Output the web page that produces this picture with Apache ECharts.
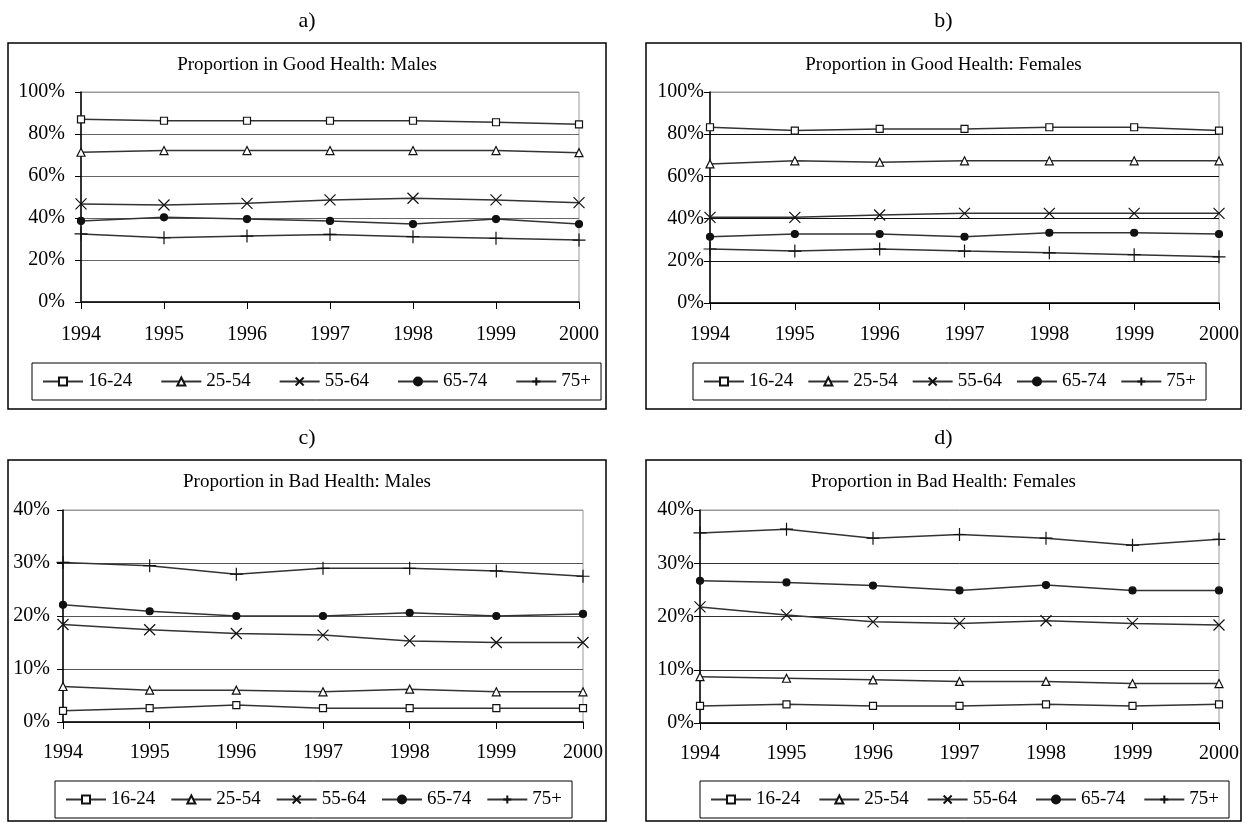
<!DOCTYPE html>
<html>
<head>
<meta charset="utf-8">
<script src="https://cdn.jsdelivr.net/npm/echarts@6/dist/echarts.min.js"></script>
<style>
  html, body { margin: 0; padding: 0; background: #fff; }
  #chart { width: 1246px; height: 823px; }
</style>
</head>
<body>
<div id="chart"></div>
<script>
// Survey years and age bands
const years = ['1994', '1995', '1996', '1997', '1998', '1999', '2000'];
const ageGroups = ['16-24', '25-54', '55-64', '65-74', '75+'];

// a) Proportion in good health, males (%)
const goodMale1624 = [87.0, 86.3, 86.3, 86.3, 86.3, 85.6, 84.6];
const goodMale2554 = [71.3, 72.1, 72.1, 72.1, 72.1, 72.1, 71.1];
const goodMale5564 = [46.7, 46.2, 47.0, 48.6, 49.4, 48.6, 47.3];
const goodMale6574 = [38.6, 40.3, 39.5, 38.6, 37.1, 39.5, 37.1];
const goodMale75 = [32.4, 30.6, 31.4, 32.2, 31.1, 30.3, 29.5];

// b) Proportion in good health, females (%)
const goodFemale1624 = [83.3, 81.7, 82.5, 82.5, 83.3, 83.3, 81.7];
const goodFemale2554 = [65.9, 67.4, 66.7, 67.4, 67.4, 67.4, 67.4];
const goodFemale5564 = [40.6, 40.6, 41.7, 42.5, 42.5, 42.5, 42.5];
const goodFemale6574 = [31.4, 32.7, 32.7, 31.4, 33.3, 33.3, 32.7];
const goodFemale75 = [25.6, 24.6, 25.6, 24.6, 23.8, 22.9, 21.9];

// c) Proportion in bad health, males (%)
const badMale1624 = [2.1, 2.6, 3.2, 2.6, 2.6, 2.6, 2.6];
const badMale2554 = [6.7, 6.0, 6.0, 5.7, 6.2, 5.7, 5.7];
const badMale5564 = [18.4, 17.4, 16.7, 16.4, 15.3, 15.0, 15.0];
const badMale6574 = [22.1, 20.9, 20.0, 20.0, 20.6, 20.0, 20.4];
const badMale75 = [30.1, 29.5, 27.9, 29.0, 29.0, 28.5, 27.5];

// d) Proportion in bad health, females (%)
const badFemale1624 = [3.2, 3.5, 3.2, 3.2, 3.5, 3.2, 3.5];
const badFemale2554 = [8.7, 8.4, 8.1, 7.8, 7.8, 7.4, 7.4];
const badFemale5564 = [21.8, 20.3, 19.0, 18.7, 19.2, 18.7, 18.4];
const badFemale6574 = [26.7, 26.4, 25.8, 24.9, 25.9, 24.9, 24.9];
const badFemale75 = [35.7, 36.4, 34.7, 35.4, 34.7, 33.4, 34.5];

const FONT = '"Liberation Serif", "DejaVu Serif", serif';
const LINE_COLOR = '#333';
const MARK_COLOR = '#111';

// One marker style per age band
const markerStyles = [
  { symbol: 'rect', size: 7, fill: '#fff' },
  { symbol: 'triangle', size: 8, fill: '#fff' },
  { symbol: 'path://M0 0L10 10M10 0L0 10', size: 11, fill: MARK_COLOR },
  { symbol: 'circle', size: 7, fill: MARK_COLOR },
  { symbol: 'path://M5 0L5 10M0 5L10 5', size: 13, fill: MARK_COLOR }
];

// Panel layout: plot rectangle, frame, axis range and decorations
const panels = [
  { tag: 'a)', title: 'Proportion in Good Health: Males',
    series: [goodMale1624, goodMale2554, goodMale5564, goodMale6574, goodMale75],
    plot: { left: 81, top: 92, right: 579, bottom: 302 },
    frame: { x: 8, y: 43, w: 598, h: 366 },
    yMax: 100, yStep: 20, yMargin: 16, xMargin: 23, gridColor: '#666',
    legend: { left: 32, top: 363, gap: 28 } },
  { tag: 'b)', title: 'Proportion in Good Health: Females',
    series: [goodFemale1624, goodFemale2554, goodFemale5564, goodFemale6574, goodFemale75],
    plot: { left: 710, top: 92, right: 1219, bottom: 303 },
    frame: { x: 646, y: 43, w: 595, h: 366 },
    yMax: 100, yStep: 20, yMargin: 6, xMargin: 22, gridColor: '#111',
    legend: { left: 693, top: 363, gap: 14 } },
  { tag: 'c)', title: 'Proportion in Bad Health: Males',
    series: [badMale1624, badMale2554, badMale5564, badMale6574, badMale75],
    plot: { left: 63, top: 510, right: 583, bottom: 722 },
    frame: { x: 8, y: 460, w: 598, h: 361 },
    yMax: 40, yStep: 10, yMargin: 13, xMargin: 21, gridColor: '#555',
    legend: { left: 55, top: 781, gap: 15 } },
  { tag: 'd)', title: 'Proportion in Bad Health: Females',
    series: [badFemale1624, badFemale2554, badFemale5564, badFemale6574, badFemale75],
    plot: { left: 700, top: 510, right: 1219, bottom: 723 },
    frame: { x: 646, y: 460, w: 595, h: 361 },
    yMax: 40, yStep: 10, yMargin: 6, xMargin: 21, gridColor: '#333',
    legend: { left: 700, top: 781, gap: 18 } }
];

const W = 1246, H = 823;
const grid = [], xAxis = [], yAxis = [], series = [], legend = [], graphics = [];

panels.forEach((p, i) => {
  grid.push({
    left: p.plot.left, top: p.plot.top,
    width: p.plot.right - p.plot.left, height: p.plot.bottom - p.plot.top,
    show: true, borderColor: '#999', borderWidth: 1, backgroundColor: 'transparent'
  });
  xAxis.push({
    type: 'category', gridIndex: i, data: years, boundaryGap: false,
    axisLine: { lineStyle: { color: '#000', width: 1.5 } },
    axisTick: { show: true, length: 7, lineStyle: { color: '#000', width: 1 } },
    axisLabel: { color: '#000', fontFamily: FONT, fontSize: 20, margin: p.xMargin, interval: 0 },
    splitLine: { show: false }
  });
  const nTicks = p.yMax / p.yStep + 1;
  const splitColors = [];
  for (let k = 0; k < nTicks; k++) splitColors.push(k === nTicks - 1 ? '#999' : p.gridColor);
  yAxis.push({
    type: 'value', gridIndex: i, min: 0, max: p.yMax, interval: p.yStep,
    axisLine: { show: true, lineStyle: { color: '#000', width: 1.5 } },
    axisTick: { show: true, length: 6, lineStyle: { color: '#000', width: 1 } },
    axisLabel: { color: '#000', fontFamily: FONT, fontSize: 20, margin: p.yMargin, formatter: '{value}%' },
    splitLine: { show: true, lineStyle: { color: splitColors, width: 1 } }
  });
  p.series.forEach((vals, k) => {
    const m = markerStyles[k];
    series.push({
      type: 'line', name: ageGroups[k], xAxisIndex: i, yAxisIndex: i,
      data: vals, symbol: m.symbol, symbolSize: m.size, showSymbol: true,
      animation: false, silent: true, z: 3,
      lineStyle: { color: LINE_COLOR, width: 1.5 },
      itemStyle: { color: m.fill, borderColor: MARK_COLOR, borderWidth: 1.2 }
    });
  });
  legend.push({
    left: p.legend.left, top: p.legend.top, orient: 'horizontal',
    data: ageGroups, selectedMode: false,
    itemWidth: 40, itemHeight: 10, itemGap: p.legend.gap,
    padding: [9, 10], borderColor: '#000', borderWidth: 1, backgroundColor: '#fff',
    textStyle: { color: '#000', fontFamily: FONT, fontSize: 19 }
  });
  // Panel frame, panel letter and chart title
  graphics.push({
    type: 'rect', silent: true, z: -1,
    shape: { x: p.frame.x, y: p.frame.y, width: p.frame.w, height: p.frame.h },
    style: { fill: 'none', stroke: '#000', lineWidth: 1.5 }
  });
  const cx = p.frame.x + p.frame.w / 2;
  graphics.push({
    type: 'text', silent: true, x: cx, y: p.frame.y - 22,
    style: { text: p.tag, font: '22px ' + FONT, fill: '#000', align: 'center', verticalAlign: 'middle' }
  });
  graphics.push({
    type: 'text', silent: true, x: cx, y: p.frame.y + 22,
    style: { text: p.title, font: '19px ' + FONT, fill: '#000', align: 'center', verticalAlign: 'middle' }
  });
});

const chart = echarts.init(document.getElementById('chart'), null, { renderer: 'canvas', width: W, height: H });
chart.setOption({
  animation: false,
  backgroundColor: '#fff',
  grid, xAxis, yAxis, series, legend,
  graphic: graphics
});
</script>
</body>
</html>
